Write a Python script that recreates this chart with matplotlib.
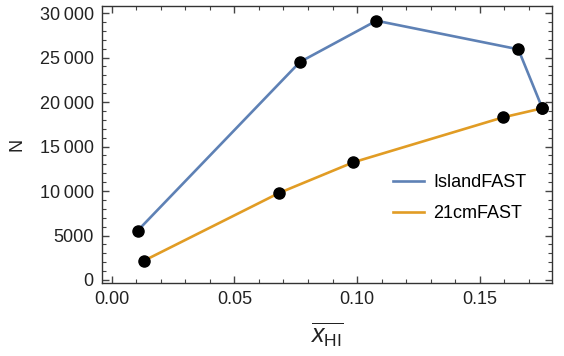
import matplotlib
matplotlib.use("Agg")
import matplotlib.pyplot as plt
from matplotlib.ticker import MultipleLocator, FuncFormatter

plt.rcParams["font.family"] = ["Liberation Sans", "DejaVu Sans"]
plt.rcParams["mathtext.fontset"] = "custom"
plt.rcParams["mathtext.rm"] = "Liberation Sans"
plt.rcParams["mathtext.it"] = "Liberation Sans:italic"

# neutral fraction vs N for the two codes
island_x = [0.0105, 0.0767, 0.1079, 0.1658, 0.1756]
island_n = [5540, 24500, 29140, 25930, 19300]
fast_x = [0.0131, 0.0682, 0.0985, 0.1597, 0.1756]
fast_n = [2170, 9780, 13230, 18290, 19300]

blue = "#5E81B5"
orange = "#E19C24"


def thousands(v, pos):
    v = int(round(v))
    if abs(v) < 10000:
        return str(v)
    return f"{v:,}".replace(",", "\u2009")


fig = plt.figure(figsize=(5.64, 3.56), dpi=100)
ax = fig.add_axes([0.181, 0.205, 0.798, 0.778])

ax.plot(island_x, island_n, color=blue, lw=1.9, label="IslandFAST", zorder=2)
ax.plot(fast_x, fast_n, color=orange, lw=1.9, label="21cmFAST", zorder=2)
ax.plot(island_x, island_n, "o", color="black", ms=8, zorder=3)
ax.plot(fast_x, fast_n, "o", color="black", ms=8, zorder=3)

ax.set_xlim(-0.004, 0.1796)
ax.set_ylim(-340, 30790)

ax.xaxis.set_major_locator(MultipleLocator(0.05))
ax.xaxis.set_minor_locator(MultipleLocator(0.01))
ax.yaxis.set_major_locator(MultipleLocator(5000))
ax.yaxis.set_minor_locator(MultipleLocator(1000))
ax.xaxis.set_major_formatter(FuncFormatter(lambda v, p: f"{v:.2f}"))
ax.yaxis.set_major_formatter(FuncFormatter(thousands))

ax.tick_params(which="both", direction="in", top=True, right=True,
               color="#444444", labelsize=13, labelcolor="#222222")
ax.tick_params(which="major", length=5, width=1, pad=6)
ax.tick_params(which="minor", length=3, width=0.8)
for s in ax.spines.values():
    s.set_color("#333333")
    s.set_linewidth(1.0)

ax.set_ylabel("N", fontsize=13, color="#222222", labelpad=10)
ax.set_xlabel(r"$\overline{x_{\mathrm{HI}}}$", fontsize=18, color="#222222", labelpad=9)

ax.legend(loc="upper left", bbox_to_anchor=(0.684, 0.531),
          bbox_transform=fig.transFigure, borderaxespad=0, frameon=False,
          fontsize=13, handlelength=1.7, handletextpad=0.55, labelspacing=0.78)

fig.savefig("out.png", dpi=100)
